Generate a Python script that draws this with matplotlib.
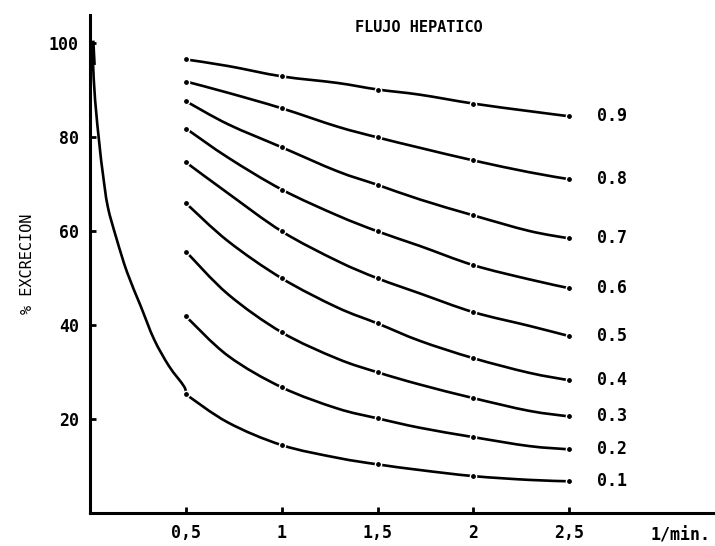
import matplotlib
matplotlib.use("Agg")
import matplotlib.pyplot as plt
import numpy as np
from matplotlib.path import Path
from matplotlib.patches import PathPatch

# datos (% excrecion frente a 1/min)
flujos = ["0.9", "0.8", "0.7", "0.6", "0.5", "0.4", "0.3", "0.2", "0.1"]
x_traza = [0.5, 0.72, 1, 1.29, 1.5, 1.72, 2, 2.29, 2.5]
x_puntos = [0.5, 1, 1.5, 2, 2.5]

y_09 = [96.6, 95.2, 93.0, 91.6, 90.2, 89.1, 87.2, 85.6, 84.5]
y_08 = [91.9, 89.5, 86.2, 82.3, 80.0, 77.8, 75.1, 72.6, 71.1]
y_07 = [87.7, 82.8, 77.9, 72.8, 69.9, 66.8, 63.4, 60.1, 58.5]
y_06 = [81.9, 75.7, 68.9, 63.4, 60.0, 56.9, 52.8, 49.8, 47.9]
y_05 = [74.7, 68.1, 60.0, 53.7, 50.0, 46.8, 42.8, 39.9, 37.7]
y_04 = [66.0, 57.9, 50.0, 43.8, 40.4, 36.7, 33.0, 29.9, 28.3]
y_03 = [55.7, 46.6, 38.5, 32.9, 30.0, 27.4, 24.5, 21.8, 20.6]
y_02 = [41.9, 33.5, 26.8, 22.3, 20.2, 18.2, 16.2, 14.3, 13.6]
y_01 = [25.3, 19.3, 14.5, 11.8, 10.4, 9.2, 7.9, 7.1, 6.8]
curvas = [y_09, y_08, y_07, y_06, y_05, y_04, y_03, y_02, y_01]

# tramo inicial muy empinado (se une a la curva 0.1 en x=0,5)
x_inicio = [0.01, 0.015, 0.026, 0.05, 0.066, 0.092, 0.139, 0.193, 0.264, 0.334, 0.412, 0.49, 0.5]
y_inicio = [100, 96, 88, 78, 72.5, 65.3, 58.3, 51.3, 44.1, 37.0, 31.3, 27.0, 25.3]

x_ticks = [0.5, 1, 1.5, 2, 2.5]
x_ticklabels = ["0,5", "1", "1,5", "2", "2,5"]
y_ticks = [20, 40, 60, 80, 100]

fuente = "DejaVu Sans Mono"


# trazo suave (curvas de Bezier) que pasa por los puntos leidos
def trazo_suave(ax, xs, ys, **kw):
    p = np.column_stack([xs, ys]).astype(float)
    n = len(p)
    verts = [p[0]]
    codes = [Path.MOVETO]
    for i in range(n - 1):
        p0 = p[i - 1] if i > 0 else p[i]
        p3 = p[i + 2] if i + 2 < n else p[i + 1]
        c1 = p[i] + (p[i + 1] - p0) / 6
        c2 = p[i + 1] - (p3 - p[i]) / 6
        verts += [c1, c2, p[i + 1]]
        codes += [Path.CURVE4] * 3
    ax.add_patch(PathPatch(Path(verts, codes), fill=False, **kw))


fig = plt.figure(figsize=(7.15, 5.46), dpi=100)
ax = fig.add_axes([0.126, 0.060, 0.874, 0.912])

for flujo, ys in zip(flujos, curvas):
    trazo_suave(ax, x_traza, ys, edgecolor="black", lw=1.9, capstyle="round")
    ys_puntos = [ys[x_traza.index(x)] for x in x_puntos]
    ax.plot(x_puntos, ys_puntos, "o", color="black", ms=4.5,
            markeredgecolor="white", markeredgewidth=1.0, zorder=3)
    ax.text(2.645, ys[-1], flujo, fontsize=12, family=fuente,
            weight="bold", va="center", ha="left")

trazo_suave(ax, x_inicio, y_inicio, edgecolor="black", lw=1.9, capstyle="round")
ax.plot(x_inicio[:2], y_inicio[:2], color="black", lw=4)

ax.set_xlim(0, 3.26)
ax.set_ylim(0, 106)

ax.spines["top"].set_visible(False)
ax.spines["right"].set_visible(False)
ax.spines["left"].set_linewidth(2.2)
ax.spines["bottom"].set_linewidth(2.2)

ax.set_xticks(x_ticks)
ax.set_xticklabels(x_ticklabels, family=fuente, fontsize=12, weight="bold")
ax.set_yticks(y_ticks)
ax.set_yticklabels([str(v) for v in y_ticks], family=fuente, fontsize=12,
                   weight="bold")
ax.tick_params(direction="in", length=4, width=2, pad=8)

ax.set_ylabel("% EXCRECION", family=fuente, fontsize=11, labelpad=10)
ax.text(3.08, -0.045, "1/min.", family=fuente, fontsize=12, weight="bold",
        ha="center", va="center", transform=ax.get_xaxis_transform())
ax.text(1.716, 103.4, "FLUJO HEPATICO", family=fuente, fontsize=11,
        weight="bold", ha="center", va="center")

fig.savefig("out.png", dpi=100)
